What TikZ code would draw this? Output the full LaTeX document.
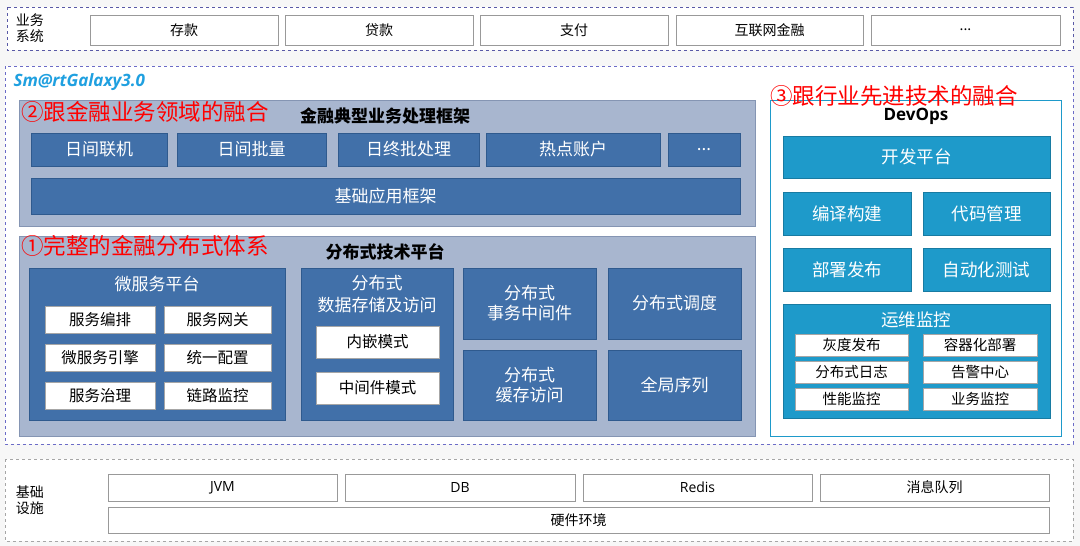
\documentclass[tikz,border=0pt]{standalone}
\usepackage{fontspec}
\setmainfont{Noto Sans CJK SC}
\newfontfamily\lat{Open Sans}
\definecolor{bgc}{HTML}{F7F7F7}
\definecolor{panel}{HTML}{A8B6CF}
\definecolor{panelb}{HTML}{8595B3}
\definecolor{dblue}{HTML}{4170A9}
\definecolor{dbb}{HTML}{2F5A8E}
\definecolor{teal}{HTML}{1E9ACA}
\definecolor{skyb}{HTML}{1FA0E0}
\newcommand{\bx}[7]{%
\pgfmathsetmacro\bw{#4-#2}\pgfmathsetmacro\bh{#5-#3}%
\node[#6,minimum width=\bw pt,minimum height=\bh pt,inner sep=0pt,align=center] (#1) at ({(#2+#4)/2},{(#3+#5)/2}) {#7};}
\tikzset{
 wbox/.style={draw=gray!80,fill=white,line width=0.8pt,font=\fontsize{14}{16}\selectfont},
 dbox/.style={draw=dbb,fill=dblue,text=white,line width=0.6pt,font=\fontsize{17}{20}\selectfont},
 tbox/.style={draw=teal!80!black,fill=teal,text=white,line width=0.6pt,font=\fontsize{17.5}{20}\selectfont},
 pbox/.style={draw=panelb,fill=panel,line width=0.8pt},
 sbox/.style={draw=gray!70,fill=white,font=\fontsize{15.5}{17}\selectfont},
 redl/.style={text=red,font=\fontsize{22.5}{24}\selectfont,anchor=west,inner sep=0pt},
 ttl/.style={font=\bfseries\fontsize{17}{19}\selectfont,inner sep=0pt},
}
\begin{document}
\begin{tikzpicture}[x=1pt,y=-1pt]
\fill[bgc] (0,0) rectangle (1080,546);
\useasboundingbox (0,0) rectangle (1080,546);
% top
\draw[gray!70!blue,dashed,line width=0.8pt,fill=white] (7,7) rectangle (1073,50);
\node[align=left,font=\fontsize{14}{16}\selectfont] (ys) at (30,28) {业务\\系统};
\bx{a1}{90}{15}{278}{45}{wbox}{存款}
\bx{a2}{285}{15}{473}{45}{wbox}{贷款}
\bx{a3}{480}{15}{668}{45}{wbox}{支付}
\bx{a4}{676}{15}{863}{45}{wbox}{互联网金融}
\bx{a5}{871}{15}{1060}{45}{wbox}{...}
% middle
\draw[blue!45!gray!80,dashed,line width=0.8pt,fill=white] (5,66) rectangle (1073,444);
\node[anchor=west,text=skyb,font=\lat\bfseries\itshape\fontsize{17}{19}\selectfont] (sg) at (10,82) {Sm@rtGalaxy3.0};
\bx{p1}{19}{100}{755}{226}{pbox}{}
\node[ttl] (t1) at (385,116) {金融典型业务处理框架};
\node[redl] (r2) at (21,112) {②跟金融业务领域的融合};
\bx{b1}{31}{133}{167}{166}{dbox}{日间联机}
\bx{b2}{177}{133}{326}{166}{dbox}{日间批量}
\bx{b3}{338}{133}{479}{166}{dbox}{日终批处理}
\bx{b4}{486}{133}{660}{166}{dbox}{热点账户}
\bx{b5}{668}{133}{740}{166}{dbox}{...}
\bx{b6}{31}{178}{740}{214}{dbox}{基础应用框架}
\bx{p2}{19}{236}{755}{436}{pbox}{}
\node[ttl] (t2) at (385,252) {分布式技术平台};
\node[redl] (r1) at (21,246) {①完整的金融分布式体系};
\bx{m}{29}{268}{285}{420}{dbox}{}
\node[text=white,font=\fontsize{17}{20}\selectfont] (mt) at (157,284) {微服务平台};
\bx{m1}{45}{306}{155}{333}{sbox}{服务编排}
\bx{m2}{164}{306}{271}{333}{sbox}{服务网关}
\bx{m3}{45}{344}{155}{371}{sbox}{微服务引擎}
\bx{m4}{164}{344}{271}{371}{sbox}{统一配置}
\bx{m5}{45}{382}{155}{409}{sbox}{服务治理}
\bx{m6}{164}{382}{271}{409}{sbox}{链路监控}
\bx{d}{301}{268}{453}{420}{dbox}{}
\node[text=white,align=center,font=\fontsize{17}{22}\selectfont] (dt) at (377,294) {分布式\\数据存储及访问};
\bx{d1}{316}{326}{439}{358}{sbox}{内嵌模式}
\bx{d2}{316}{372}{439}{404}{sbox}{中间件模式}
\bx{e1}{463}{268}{596}{339}{dbox}{分布式\\事务中间件}
\bx{e2}{608}{268}{741}{339}{dbox}{分布式调度}
\bx{e3}{463}{350}{596}{420}{dbox}{分布式\\缓存访问}
\bx{e4}{608}{350}{741}{420}{dbox}{全局序列}
% devops
\draw[teal,line width=0.8pt,fill=white] (770,100) rectangle (1061,436);
\node[redl] (r3) at (770,96) {③跟行业先进技术的融合};
\node[ttl,font=\lat\bfseries\fontsize{17}{19}\selectfont] (dv) at (916,116) {DevOps};
\bx{f1}{783}{136}{1050}{178}{tbox}{开发平台}
\bx{f2}{783}{192}{911}{235}{tbox}{编译构建}
\bx{f3}{923}{192}{1050}{235}{tbox}{代码管理}
\bx{f4}{783}{248}{911}{291}{tbox}{部署发布}
\bx{f5}{923}{248}{1050}{291}{tbox}{自动化测试}
\bx{g}{783}{304}{1050}{418}{tbox}{}
\node[text=white,font=\fontsize{17.5}{20}\selectfont] (gt) at (916,320) {运维监控};
\bx{g1}{795}{334}{908}{356}{sbox,font=\fontsize{14.5}{16}\selectfont}{灰度发布}
\bx{g2}{923}{334}{1037}{356}{sbox,font=\fontsize{14.5}{16}\selectfont}{容器化部署}
\bx{g3}{795}{361}{908}{383}{sbox,font=\fontsize{14.5}{16}\selectfont}{分布式日志}
\bx{g4}{923}{361}{1037}{383}{sbox,font=\fontsize{14.5}{16}\selectfont}{告警中心}
\bx{g5}{795}{388}{908}{410}{sbox,font=\fontsize{14.5}{16}\selectfont}{性能监控}
\bx{g6}{923}{388}{1037}{410}{sbox,font=\fontsize{14.5}{16}\selectfont}{业务监控}
% bottom
\draw[gray!70,dashed,line width=0.8pt,fill=white] (5,459) rectangle (1073,541);
\node[align=left,font=\fontsize{14}{16}\selectfont] (js) at (30,500) {基础\\设施};
\bx{h1}{108}{474}{337}{501}{wbox,font=\lat\fontsize{14}{16}\selectfont}{JVM}
\bx{h2}{345}{474}{575}{501}{wbox,font=\lat\fontsize{14}{16}\selectfont}{DB}
\bx{h3}{583}{474}{812}{501}{wbox,font=\lat\fontsize{14}{16}\selectfont}{Redis}
\bx{h4}{820}{474}{1049}{501}{wbox}{消息队列}
\bx{h5}{108}{507}{1049}{533}{wbox}{硬件环境}
\end{tikzpicture}
\end{document}
